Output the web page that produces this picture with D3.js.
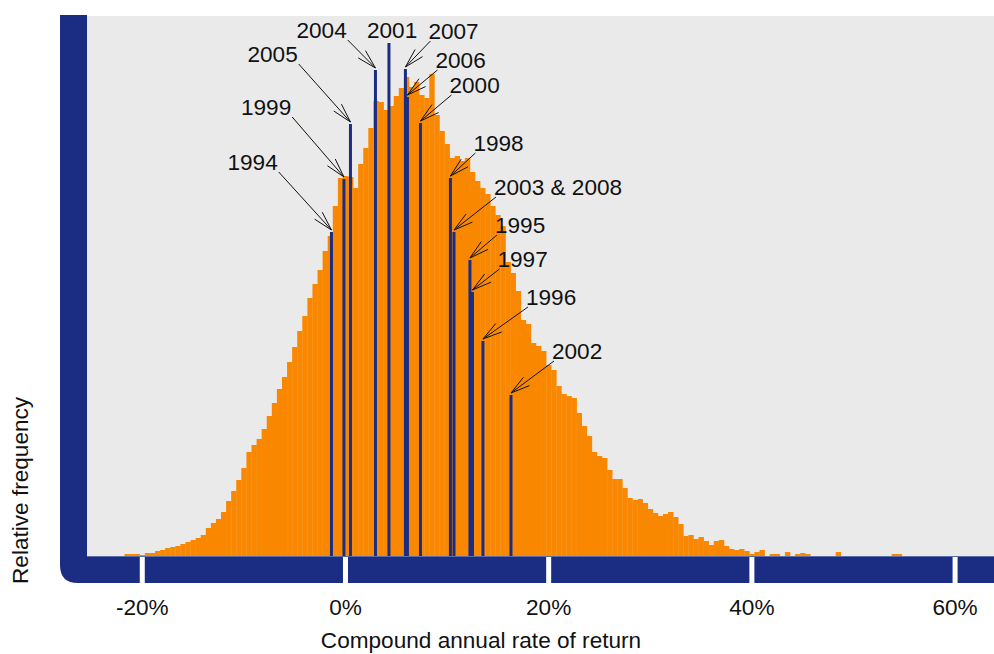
<!DOCTYPE html>
<html>
<head>
<meta charset="utf-8">
<script src="https://cdn.jsdelivr.net/npm/d3@7"></script>
<style>
  body { margin: 0; background: #fff; }
  text { font-family: "Liberation Sans", Arial, sans-serif; }
</style>
</head>
<body>
<svg id="chart" width="994" height="654"></svg>
<script>
// histogram: 0.5% wide bins, first bin starts at -21.75%
const binStart = -21.75
const binWidth = 0.5
const binFreq = [
  2, 2, 2, 1, 3, 3, 5, 6, 8, 9,
  10, 12, 14, 16, 18, 21, 28, 33, 37, 44,
  55, 65, 76, 88, 104, 111, 117, 127, 140, 153,
  167, 179, 194, 209, 225, 240, 258, 272, 286, 305,
  320, 350, 378, 380, 379, 368, 392, 408, 428, 455,
  454, 446, 450, 460, 468, 479, 469, 474, 461, 458,
  482, 441, 425, 412, 398, 400, 395, 398, 384, 375,
  368, 362, 350, 341, 330, 294, 283, 265, 236, 232,
  213, 210, 205, 191, 186, 170, 162, 160, 158, 143,
  130, 120, 104, 100, 98, 86, 77, 77, 68, 58,
  56, 57, 53, 47, 43, 40, 42, 44, 39, 32,
  20, 21, 17, 19, 15, 11, 15, 16, 10, 7,
  6, 7, 5, 2, 4, 6, 0, 2, 2, 0,
  4, 0, 2, 3, 2, 0, 0, 0, 0, 0,
  4, 0, 0, 0, 0, 0, 0, 0, 0, 0,
  0, 2, 2
].map(v => v / 1000)

// individual years
const years = ["1994", "1999", "2005", "2004", "2001", "2007", "2006", "2000",
  "1998", "2003 & 2008", "1995", "1997", "1996", "2002"]
const yearReturn = [-1.38, -0.15, 0.49, 2.95, 4.28, 5.9, 6.1, 7.38,
  10.33, 10.68, 12.25, 12.5, 13.53, 16.29]
const yearFreq = [0.324, 0.377, 0.432, 0.486, 0.513, 0.487, 0.459, 0.433,
  0.378, 0.324, 0.296, 0.264, 0.215, 0.161]

const xTicks = [-20, 0, 20, 40, 60]

// label placement relative to the top of each year line: [dx, dy] of text start, arrow or not
const labelPos = [
  [-104, -62, true], [-103, -64, true], [-103, -62, true], [-79, -32, true],
  [-22, -5, false], [23, -30, true], [28, -29, true], [29, -30, true],
  [23, -27, true], [40, -37, true], [25, -27, true], [25, -25, true],
  [43, -36, true], [41, -36, true]
]

const navy = "#1a2d83"
const orange = "#f98800"

const svg = d3.select("#chart")

const x = d3.scaleLinear().domain([-25.44, 63.83]).range([87, 994])
const y = d3.scaleLinear().domain([0, 0.54]).range([556, 16])

// panel
svg.append("rect")
  .attr("x", 87).attr("y", 16)
  .attr("width", 994 - 87).attr("height", 556 - 16)
  .attr("fill", "#eaeaea")

// histogram bars
svg.append("g").selectAll("rect")
  .data(binFreq)
  .join("rect")
  .attr("x", (d, i) => x(binStart + i * binWidth))
  .attr("width", (d, i) => x(binStart + (i + 1) * binWidth) - x(binStart + i * binWidth) + 0.3)
  .attr("y", d => y(d))
  .attr("height", d => y(0) - y(d))
  .attr("fill", orange)

// year lines
svg.append("g").selectAll("line")
  .data(years)
  .join("line")
  .attr("x1", (d, i) => x(yearReturn[i]))
  .attr("x2", (d, i) => x(yearReturn[i]))
  .attr("y1", y(0))
  .attr("y2", (d, i) => y(yearFreq[i]))
  .attr("stroke", navy)
  .attr("stroke-width", 3)

// labels + arrows
const labels = svg.append("g")
years.forEach((name, i) => {
  const tx = x(yearReturn[i]), ty = y(yearFreq[i])
  const [dx, dy, arrow] = labelPos[i]
  const t = labels.append("text")
    .attr("x", tx + dx).attr("y", ty + dy)
    .attr("font-size", 22.6)
    .attr("fill", "#111")
    .text(name)
  if (!arrow) return
  const w = t.node().getComputedTextLength()
  // tail: bottom right corner for labels on the left, bottom left for the right
  const sx = dx < 0 ? tx + dx + w + 1 : tx + dx + 2
  const sy = ty + dy + 2
  const hx = tx, hy = ty - 2
  const ang = Math.atan2(sy - hy, sx - hx)
  const len = 20, spread = 0.26
  labels.append("path")
    .attr("d", `M${sx},${sy}L${hx},${hy}` +
      `M${hx + len * Math.cos(ang - spread)},${hy + len * Math.sin(ang - spread)}L${hx},${hy}` +
      `L${hx + len * Math.cos(ang + spread)},${hy + len * Math.sin(ang + spread)}`)
    .attr("fill", "none")
    .attr("stroke", "#111")
    .attr("stroke-width", 1)
})

// thick L frame with rounded corner
const r = 18
svg.append("path")
  .attr("d", `M60,15H87V556H994V583H${60 + r}Q60,583 60,${583 - r}Z`)
  .attr("fill", navy)
svg.append("line")
  .attr("x1", 87).attr("x2", 994).attr("y1", 556.5).attr("y2", 556.5)
  .attr("stroke", "#5b6cab").attr("stroke-width", 1)

// tick gaps and labels
svg.append("g").selectAll("rect")
  .data(xTicks)
  .join("rect")
  .attr("x", d => x(d) - 2.5)
  .attr("y", 557)
  .attr("width", 5)
  .attr("height", 27)
  .attr("fill", "#fff")

svg.append("g").selectAll("text")
  .data(xTicks)
  .join("text")
  .attr("x", d => x(d))
  .attr("y", 615)
  .attr("text-anchor", "middle")
  .attr("font-size", 22.6)
  .attr("fill", "#111")
  .text(d => d + "%")

svg.append("text")
  .attr("x", 481).attr("y", 648)
  .attr("text-anchor", "middle")
  .attr("font-size", 22.6)
  .attr("fill", "#111")
  .text("Compound annual rate of return")

svg.append("text")
  .attr("transform", "translate(28,584) rotate(-90)")
  .attr("font-size", 22.6)
  .attr("fill", "#111")
  .text("Relative frequency")
</script>
</body>
</html>
